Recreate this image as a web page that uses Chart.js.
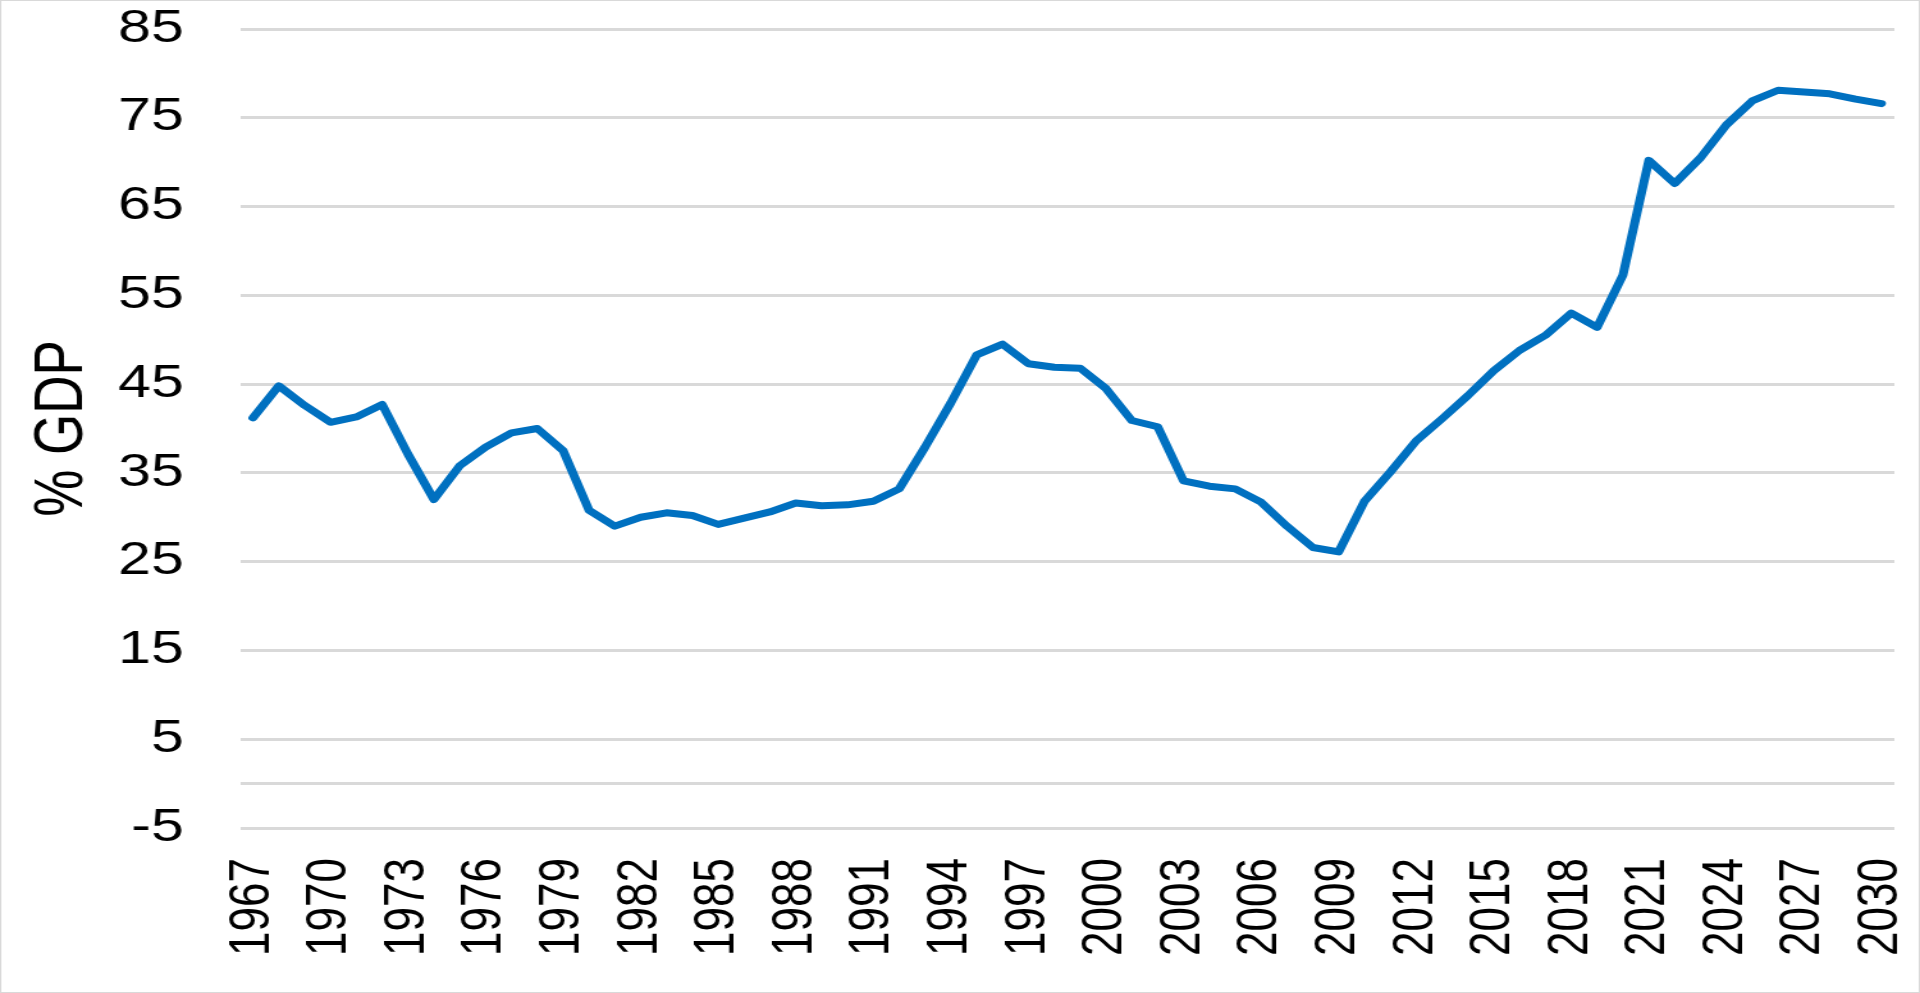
<!DOCTYPE html>
<html>
<head>
<meta charset="utf-8">
<script src="https://cdn.jsdelivr.net/npm/chart.js@4"></script>
<style>
  html, body { margin: 0; padding: 0; background: #fff; overflow: hidden; }
  /* the reference is stretched sideways, so the chart is drawn narrower and widened */
  #wrap { width: 1500px; height: 993px; position: relative; transform: scaleX(1.28); transform-origin: 0 0; }
</style>
</head>
<body>
<div id="wrap"><canvas id="debtChart"></canvas></div>
<script>
// years on the category axis
const years = [];
for (let y = 1967; y <= 2030; y++) years.push(String(y));

// % of GDP
const debtValues = [
  41.2, 44.8, 42.6, 40.7, 41.3, 42.7, 37.1, 32.0, 35.8, 37.9,
  39.5, 40.0, 37.5, 30.8, 29.0, 30.0, 30.5, 30.2, 29.2, 29.9,
  30.6, 31.6, 31.3, 31.4, 31.8, 33.2, 37.9, 42.9, 48.3, 49.5,
  47.3, 46.9, 46.8, 44.5, 40.9, 40.2, 34.1, 33.5, 33.2, 31.7,
  29.0, 26.6, 26.1, 31.8, 35.1, 38.6, 41.1, 43.7, 46.5, 48.8,
  50.5, 53.0, 51.4, 57.3, 70.2, 67.6, 70.5, 74.2, 76.9, 78.1,
  77.9, 77.7, 77.1, 76.6
];

// y tick values (0 carries an unlabelled gridline)
const yTicks = [-5, 0, 5, 15, 25, 35, 45, 55, 65, 75, 85];
const yTitle = '% GDP';

const FONT = '"Liberation Sans", Arial, sans-serif';

// white background + thin frame, like the Excel chart area
const frame = {
  id: 'frame',
  beforeDraw(chart) {
    const c = chart.ctx;
    c.save();
    c.fillStyle = '#fff';
    c.fillRect(0, 0, chart.width, chart.height);
    c.strokeStyle = '#d9d9d9';
    c.lineWidth = 1;
    c.strokeRect(0.5, 0.5, chart.width - 1, chart.height - 1);
    c.restore();
  }
};

const ctx = document.getElementById('debtChart').getContext('2d');
const debtChart = new Chart(ctx, {
  type: 'line',
  data: {
    labels: years,
    datasets: [{
      data: debtValues,
      borderColor: '#0070C0',
      borderWidth: 7,
      pointRadius: 0,
      tension: 0,
      borderJoinStyle: 'round',
      borderCapStyle: 'round'
    }]
  },
  options: {
    responsive: true,
    maintainAspectRatio: false,
    animation: false,
    layout: { padding: { top: 29, right: 20, left: 0, bottom: 0 } },
    plugins: { legend: { display: false }, tooltip: { enabled: false } },
    scales: {
      x: {
        offset: true,
        grid: { display: false, drawTicks: false },
        border: { display: false },
        ticks: {
          autoSkip: false,
          maxRotation: 90,
          minRotation: 90,
          padding: 30,
          color: '#000',
          font: { family: FONT, size: 44 },
          callback: function (val, i) {
            return i % 3 === 0 ? years[i] : '';
          }
        },
        afterFit: function (scale) {
          scale.height = 165;
          scale.paddingLeft = 0;
          scale.paddingRight = 0;
        }
      },
      y: {
        min: -5,
        max: 85,
        afterBuildTicks: function (scale) {
          scale.ticks = yTicks.map(v => ({ value: v }));
        },
        grid: { color: '#d9d9d9', lineWidth: 3, drawTicks: false },
        border: { display: false },
        ticks: {
          padding: 44,
          color: '#000',
          font: { family: FONT, size: 46 },
          callback: function (v) { return v === 0 ? '' : v; }
        },
        title: {
          display: true,
          text: yTitle,
          color: '#000',
          font: { family: FONT, size: 53 },
          padding: { top: 18, bottom: 0 }
        },
        afterFit: function (scale) {
          scale.width = 187.5;
          scale.paddingTop = 0;
          scale.paddingBottom = 0;
        }
      }
    }
  },
  plugins: [frame]
});
</script>
</body>
</html>
